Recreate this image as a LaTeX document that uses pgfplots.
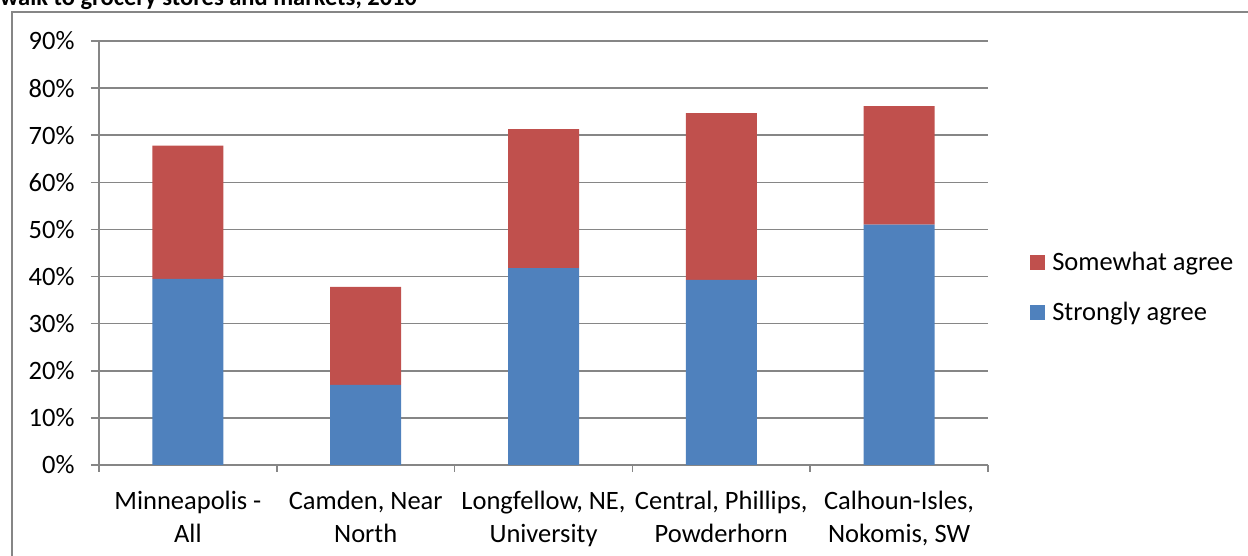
\documentclass[border=0pt]{standalone}
\usepackage{pgfplots}
\pgfplotsset{compat=1.18}
\usepackage{fontspec}
\setmainfont{Carlito}

\definecolor{barblue}{RGB}{79,129,189}
\definecolor{barred}{RGB}{192,80,77}
\definecolor{axgray}{RGB}{134,134,134}

\begin{document}
\begin{tikzpicture}[x=1pt,y=1pt]
\useasboundingbox (0,0) rectangle (1248,556);
% chart frame (cut off right and bottom)
\draw[axgray, line width=2pt] (12,0) -- (12,544) -- (1248,544);
\node[anchor=base west, inner sep=0, font=\fontsize{24.5}{28}\selectfont\bfseries] at (0,550) {walk to grocery stores and markets, 2010};

\begin{axis}[
at={(99pt,91pt)}, anchor=south west,
scale only axis, width=889pt, height=424pt,
ybar stacked, bar width=71pt,
xmin=-0.5, xmax=4.5, ymin=0, ymax=90,
axis lines*=left,
axis line style={axgray, line width=1.5pt},
font=\fontsize{26.5}{33}\selectfont,
/pgf/number format/assume math mode=true,
ytick={0,10,...,90},
yticklabel={\pgfmathprintnumber{\tick}\%},
ymajorgrids,
grid style={axgray, line width=1.5pt},
tick align=outside,
major tick length=8pt,
minor tick length=7pt,
tick style={axgray, line width=1.5pt},
xtick={0,...,4},
major x tick style={draw=none},
minor xtick={-0.5,0.5,...,4.5},
xticklabels={{Minneapolis -\\All},{Camden, Near\\North},{Longfellow, NE,\\University},{Central, Phillips,\\Powderhorn},{Calhoun-Isles,\\Nokomis, SW}},
xticklabel style={align=center, font=\fontsize{26.5}{33}\selectfont, yshift=-15pt},
yticklabel style={font=\fontsize{26.5}{33}\selectfont, xshift=-13pt},
legend style={at={(1.044,0.419)}, anchor=west, draw=none, fill=none,
  font=\fontsize{26.5}{33}\selectfont, row sep=26pt,
  nodes={inner xsep=7pt}},
legend cell align=left,
reverse legend,
legend image code/.code={\fill[#1] (0pt,-7.5pt) rectangle (15pt,7.5pt);},
]
\addplot[fill=barblue, draw=none] coordinates {(0,39.5) (1,17.0) (2,41.8) (3,39.3) (4,51.0)};
\addlegendentry{Strongly agree}
\addplot[fill=barred, draw=none] coordinates {(0,28.3) (1,20.8) (2,29.5) (3,35.4) (4,25.2)};
\addlegendentry{Somewhat agree}
\end{axis}
\end{tikzpicture}
\end{document}
